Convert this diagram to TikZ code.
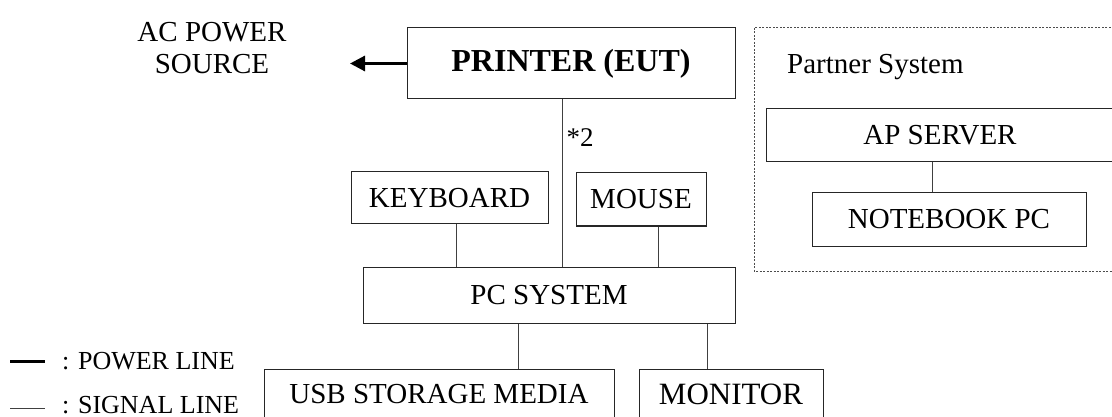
\documentclass[tikz,border=0pt]{standalone}
\usepackage{fontspec}
\setmainfont{Liberation Serif}
\usetikzlibrary{arrows.meta}
\begin{document}
\begin{tikzpicture}[x=1pt,y=-1pt,
  box/.style={draw=black!85,line width=1pt,inner sep=0pt,font=\fontsize{29}{32}\selectfont},
  sig/.style={draw=black!75,line width=1pt},
  pwr/.style={draw=black,line width=3pt},
  lbl/.style={inner sep=0pt,font=\fontsize{29}{32}\selectfont}]
\useasboundingbox (0,0) rectangle (1112,417);
% boxes
\node[box,minimum width=328pt,minimum height=71pt,font=\fontsize{32}{36}\selectfont\bfseries] (printer) at (571,63.5) {PRINTER (EUT)};
\node[box,minimum width=197pt,minimum height=52pt] (kb) at (449.5,198) {KEYBOARD};
\node[box,minimum width=130pt,minimum height=53pt] (mouse) at (641,199.5) {MOUSE};
\node[box,minimum width=372pt,minimum height=56pt] (pc) at (549,295) {PC SYSTEM};
\node[box,minimum width=350pt,minimum height=50pt] (usb) at (439,394) {USB STORAGE MEDIA};
\node[box,minimum width=184pt,minimum height=50pt,font=\fontsize{31}{34}\selectfont] (mon) at (731,394) {MONITOR};
% partner system
\draw[black!70,line width=1pt,dash pattern=on 2pt off 1.5pt] (754,28) rectangle (1118,271);
\node[lbl,anchor=west] (ptxt) at (787,67) {Partner System};
\node[box,minimum width=348pt,minimum height=53pt] (ap) at (940,135.5) {AP SERVER};
\node[box,minimum width=274pt,minimum height=53pt] (nb) at (949,219.5) {NOTEBOOK PC};
% AC power
\node[lbl,align=center] (ac) at (212,48) {AC POWER\\SOURCE};
\coordinate (acend) at (350,63.5);
\draw[pwr,-{Triangle[length=15pt,width=15pt]}] (printer.west) -- (acend);
% signal lines
\draw[sig] (printer.south -| 562,0) -- (pc.north -| 562,0) node[pos=0.23,right=4pt,lbl,font=\fontsize{27}{29}\selectfont] (two) {*2};
\draw[sig] (kb.south -| 456,0) -- (pc.north -| 456,0);
\draw[sig] (mouse.south -| 658,0) -- (pc.north -| 658,0);
\draw[sig] (pc.south -| 518,0) -- (usb.north -| 518,0);
\draw[sig] (pc.south -| 707,0) -- (mon.north -| 707,0);
\draw[sig] (ap.south -| 932,0) -- (nb.north -| 932,0);
% legend
\coordinate (p1) at (10,361); \coordinate (p2) at (45,361);
\coordinate (s1) at (10,408); \coordinate (s2) at (45,408);
\draw[pwr] (p1) -- (p2);
\draw[sig,line width=0.8pt] (s1) -- (s2);
\node[lbl,anchor=west,font=\fontsize{26}{28}\selectfont] (lp) at (62,361) {: POWER LINE};
\node[lbl,anchor=west,font=\fontsize{26}{28}\selectfont] (ls) at (62,405) {: SIGNAL LINE};
\end{tikzpicture}
\end{document}
